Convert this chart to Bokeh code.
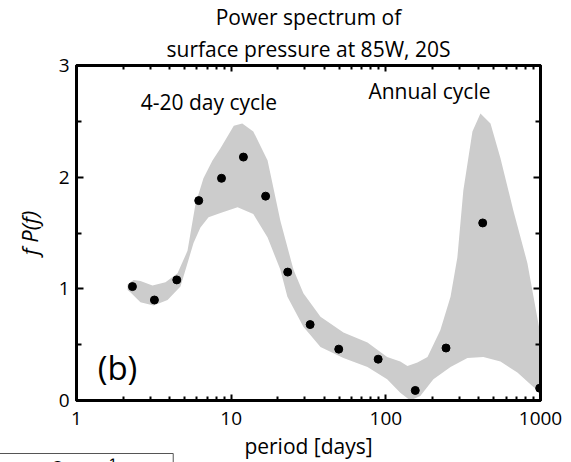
from bokeh.plotting import figure
from bokeh.models import (FixedTicker, LogAxis, LinearAxis, Label, Title,
                          Range1d, CustomJSTickFormatter)
from bokeh.embed import file_html
from bokeh.resources import INLINE

# ---------------- data ----------------
period = [2.30, 3.19, 4.45, 6.17, 8.66, 12.0, 16.7, 23.2, 32.4, 49.6, 89.2, 155, 245, 423, 988]
fpf = [1.02, 0.90, 1.08, 1.79, 1.99, 2.18, 1.83, 1.15, 0.68, 0.46, 0.37, 0.09, 0.47, 1.59, 0.11]

upper_period = [2.14, 2.34, 2.59, 3.10, 3.76, 4.50, 5.22, 5.88, 6.62, 7.57, 8.53, 10.4, 11.8,
                13.9, 17.2, 20.8, 25.3, 29.3, 37.8, 53.2, 76.1, 102, 124, 138, 160, 186, 225,
                262, 290, 317, 363, 409, 475, 551, 668, 823, 969, 999]
upper_val = [1.04, 1.08, 1.07, 1.03, 1.06, 1.14, 1.34, 1.76, 1.99, 2.15, 2.26, 2.46, 2.48,
             2.41, 2.15, 1.61, 1.17, 0.96, 0.75, 0.61, 0.52, 0.39, 0.35, 0.31, 0.34, 0.39, 0.63,
             0.93, 1.28, 1.88, 2.41, 2.57, 2.48, 2.17, 1.70, 1.23, 0.69, 0.59]

lower_period = [2.14, 2.23, 2.59, 3.15, 3.88, 4.70, 5.22, 5.71, 6.33, 7.14, 8.53, 11.0, 13.9,
                17.2, 20.8, 23.1, 29.3, 37.8, 53.2, 76.1, 102, 124, 144, 167, 203, 262, 337,
                427, 551, 709, 900, 999]
lower_val = [0.99, 0.97, 0.88, 0.85, 0.90, 1.02, 1.23, 1.41, 1.55, 1.64, 1.68, 1.73, 1.67,
             1.46, 1.17, 0.93, 0.66, 0.48, 0.38, 0.30, 0.19, 0.07, 0.00, 0.04, 0.19, 0.30, 0.38,
             0.39, 0.35, 0.25, 0.12, 0.08]

x_major = [1, 10, 100, 1000]
x_minor = [m * d for d in (1, 10, 100) for m in range(2, 10)]
y_major = [0, 1, 2, 3]
y_minor = [0.5, 1.5, 2.5]

title_lines = ["Power spectrum of", "surface pressure at 85W, 20S"]
x_label = "period [days]"
y_label = "f P(f)"
fragment_text = "→  2 m s⁻¹"

FONT = "Open Sans"
NBSP = "\u00a0"

p = figure(width=571, height=462, x_axis_type="log",
           x_range=Range1d(1, 1000), y_range=Range1d(0, 3),
           output_backend="svg", toolbar_location=None,
           min_border_left=76, min_border_right=31, min_border_top=64, min_border_bottom=61)
p.grid.visible = False
p.background_fill_color = "white"
p.border_fill_color = "white"
p.outline_line_color = "black"
p.outline_line_width = 3

# band and points
p.patch(upper_period + lower_period[::-1], upper_val + lower_val[::-1],
        fill_color="#cccccc", line_color=None)
p.scatter(period, fpf, size=8, color="black")

plain = CustomJSTickFormatter(code="return String(Math.round(tick));")
blank = CustomJSTickFormatter(code="return '';")


def style(ax, major_in, minor_in):
    ax.axis_line_width = 3
    ax.axis_line_color = "black"
    ax.major_tick_in = major_in
    ax.major_tick_out = 0
    ax.minor_tick_in = minor_in
    ax.minor_tick_out = 0
    ax.major_tick_line_width = 2
    ax.minor_tick_line_width = 2
    ax.major_label_text_font = FONT
    ax.axis_label_text_font = FONT
    ax.major_label_text_color = "black"
    ax.axis_label_text_color = "black"


xt = FixedTicker(ticks=x_major, minor_ticks=x_minor)
yt = FixedTicker(ticks=y_major, minor_ticks=y_minor)

xa = p.xaxis[0]
xa.ticker = xt
xa.formatter = plain
style(xa, 6, 4)
xa.major_label_text_font_size = "19px"
xa.major_label_standoff = 11
xa.axis_label = x_label
xa.axis_label_text_font_size = "21px"
xa.axis_label_text_font_style = "normal"
xa.axis_label_standoff = 4

ya = p.yaxis[0]
ya.ticker = yt
style(ya, 7, 5)
ya.major_label_text_font_size = "19px"
ya.major_label_standoff = 7
ya.axis_label = y_label
ya.axis_label_text_font_size = "22px"
ya.axis_label_text_font_style = "italic"
ya.axis_label_standoff = 12

top = LogAxis(ticker=xt, formatter=blank, major_label_standoff=0)
style(top, 6, 4)
p.add_layout(top, "above")
right = LinearAxis(ticker=yt, formatter=blank, major_label_standoff=0)
style(right, 7, 5)
p.add_layout(right, "right")

# annotations inside the plot
p.add_layout(Label(x=2.6, y=2.67, text="4-20 day cycle", text_font=FONT,
                   text_font_size="21px", text_baseline="alphabetic", text_color="black"))
p.add_layout(Label(x=77.2, y=2.77, text="Annual cycle", text_font=FONT,
                   text_font_size="21px", text_baseline="alphabetic", text_color="black"))
p.add_layout(Label(x=1.37, y=0.30, text="(b)", text_font=FONT,
                   text_font_size="33px", text_baseline="alphabetic", text_color="black"))

# two-line title (line 2 added first -> closest to the plot)
p.add_layout(Title(text=title_lines[1], align="center", offset=12, text_font=FONT,
                   text_font_size="21px", text_font_style="normal", text_color="black",
                   standoff=5), "above")
p.add_layout(Title(text=title_lines[0], align="center", offset=12, text_font=FONT,
                   text_font_size="21px", text_font_style="normal", text_color="black",
                   standoff=0), "above")

# fragment of a neighbouring panel's legend box (bottom-left corner)
p.add_layout(Title(text=NBSP * 8 + fragment_text + NBSP * 10, align="left", offset=-91,
                   standoff=-36, text_font=FONT, text_font_size="20px",
                   text_font_style="normal", text_color="black",
                   border_line_color="#555555", border_line_width=1),
             "below")

open("out.html", "w").write(file_html(p, INLINE))
